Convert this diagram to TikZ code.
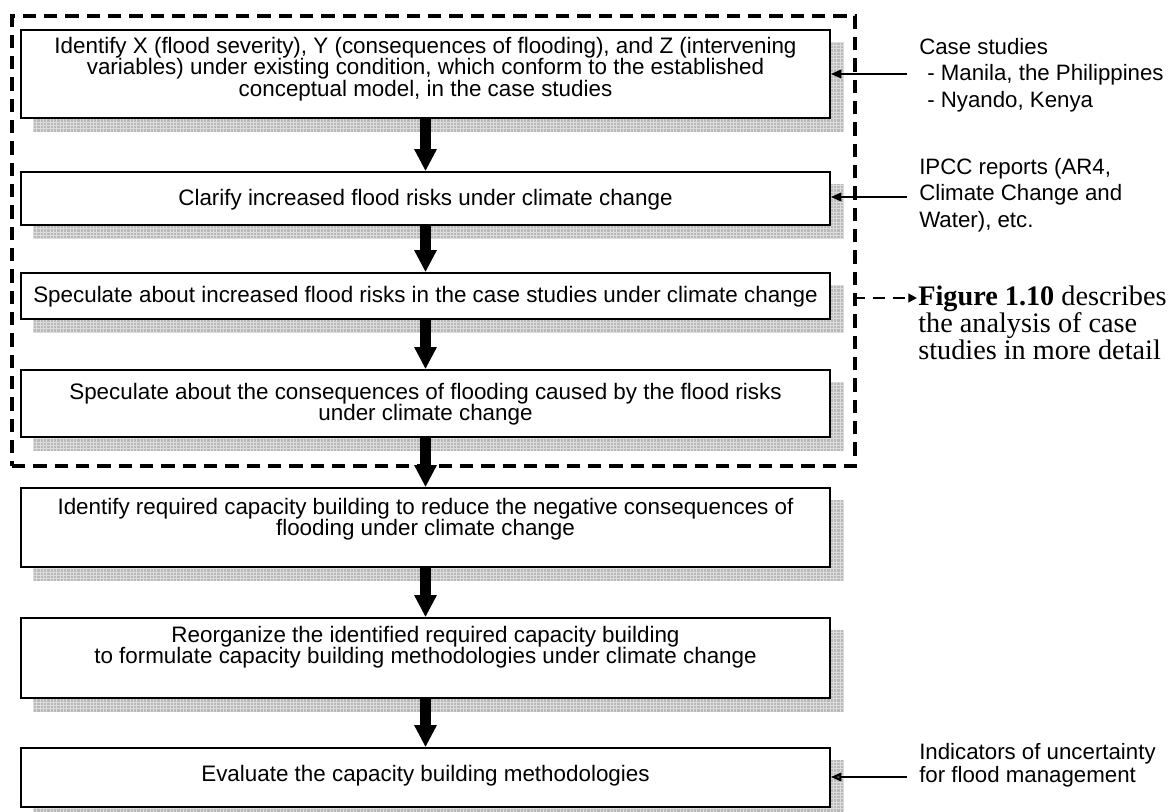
\documentclass[tikz,border=0pt]{standalone}
\usepackage{fontspec}
\setmainfont{Liberation Sans}
\newfontfamily\notefont{Liberation Serif}
\usetikzlibrary{arrows.meta,patterns.meta,fit,calc,backgrounds}

\definecolor{shadebg}{RGB}{185,185,185}
\definecolor{shadeline}{RGB}{220,220,220}

% fine grid used to fill the drop shadows of the step boxes
\tikzdeclarepattern{
  name=shadegrid,
  type=uncolored,
  bounding box={(-0.5pt,-0.5pt) and (3pt,3pt)},
  tile size={(2.5pt,2.5pt)},
  code={\draw[line width=0.5pt] (0pt,0pt) -- (2.5pt,0pt) (0pt,0pt) -- (0pt,2.5pt);}
}

\begin{document}
\begin{tikzpicture}[x=0.75pt,y=-0.75pt,
  stepbox/.style={draw=black, line width=1.2pt, fill=white, inner sep=0pt},
  shadebox/.style={preaction={fill=shadebg}, pattern=shadegrid, pattern color=shadeline},
  boxtext/.style={font=\fontsize{16.8pt}{16pt}\selectfont, align=center, inner sep=0pt},
  sidetext/.style={font=\fontsize{16.7pt}{19.9pt}\selectfont, align=left, anchor=west, inner sep=0pt},
  notetext/.style={font=\notefont\fontsize{21.2pt}{19pt}\selectfont, align=left, anchor=west, inner sep=0pt},
  flowarrow/.style={line width=8.25pt, -{Triangle[length=16.5pt,width=15.75pt]}},
  feedarrow/.style={line width=1.5pt, -{Triangle[length=8pt,width=6.5pt]}},
  notearrow/.style={line width=2pt, dash pattern=on 9pt off 6pt, dash phase=3pt, -{Triangle[length=6.5pt,width=6.5pt]}},
  groupframe/.style={draw=black, line width=2.4pt, dash pattern=on 10pt off 6pt, inner sep=0pt}
]
\useasboundingbox (0,0) rectangle (1172,812);

% frame around the case-study steps
\node[groupframe, fit={(12,16) (855,466)}] (cases) {};

% step boxes
\node[stepbox, fit={(21,30) (830,118)}]  (b1) {};
\node[stepbox, fit={(21,172) (830,225)}] (b2) {};
\node[stepbox, fit={(21,273) (830,319)}] (b3) {};
\node[stepbox, fit={(21,370) (830,437)}] (b4) {};
\node[stepbox, fit={(21,488) (830,567)}] (b5) {};
\node[stepbox, fit={(21,618) (830,698)}] (b6) {};
\node[stepbox, fit={(21,748) (830,807)}] (b7) {};

% drop shadows behind the boxes
\begin{scope}[on background layer]
  \foreach \b in {b1,b2,b3,b4,b5,b6,b7}
    \fill[shadebox] ($(\b.south west)+(13,13)$) rectangle ($(\b.north east)+(13,13)$);
\end{scope}

% box texts
\node[boxtext] (t1) at (425.5,69) {Identify X (flood severity), Y (consequences of flooding), and Z (intervening\\variables) under existing condition, which conform to the established\\conceptual model, in the case studies};
\node[boxtext] (t2) at (425.5,200) {Clarify increased flood risks under climate change};
\node[boxtext] (t3) at (425.5,297) {Speculate about increased flood risks in the case studies under climate change};
\node[boxtext] (t4) at (425.5,404) {Speculate about the consequences of flooding caused by the flood risks\\under climate change};
\node[boxtext] (t5) at (425.5,519) {Identify required capacity building to reduce the negative consequences of\\flooding under climate change};
\node[boxtext] (t6) at (425.5,647) {Reorganize the identified required capacity building\\to formulate capacity building methodologies under climate change};
\node[boxtext] (t7) at (425.5,776) {Evaluate the capacity building methodologies};

% main flow
\draw[flowarrow] (b1.south) -- (b2.north);
\draw[flowarrow] (b2.south) -- (b3.north);
\draw[flowarrow] (b3.south) -- (b4.north);
\draw[flowarrow] (b4.south) -- (b5.north);
\draw[flowarrow] (b5.south) -- (b6.north);
\draw[flowarrow] (b6.south) -- (b7.north);

% inputs on the right
\node[sidetext] (cs) at (919,75) {Case studies\\\hspace*{6pt}- Manila, the Philippines\\\hspace*{6pt}- Nyando, Kenya};
\node[sidetext] (ipcc) at (919,195) {IPCC reports (AR4,\\Climate Change and\\Water), etc.};
\node[sidetext, font=\fontsize{16.7pt}{17.5pt}\selectfont] (unc) at (919,765) {Indicators of uncertainty\\for flood management};

\coordinate (src1) at (907,74);
\coordinate (src2) at (907,197);
\coordinate (src3) at (907,777);
\draw[feedarrow] (src1) -- (src1 -| b1.east);
\draw[feedarrow] (src2) -- (src2 -| b2.east);
\draw[feedarrow, -{Triangle[length=8pt,width=6.5pt,fill=black!70]}] (src3) -- (src3 -| b7.east);

% pointer to the detailed figure
\node[notetext] (note) at (918,323) {\textbf{Figure 1.10} describes\\the analysis of case\\studies in more detail};
\coordinate (notetip) at (917,298);
\draw[notearrow] (notetip -| cases.east) -- (notetip);

\end{tikzpicture}
\end{document}
